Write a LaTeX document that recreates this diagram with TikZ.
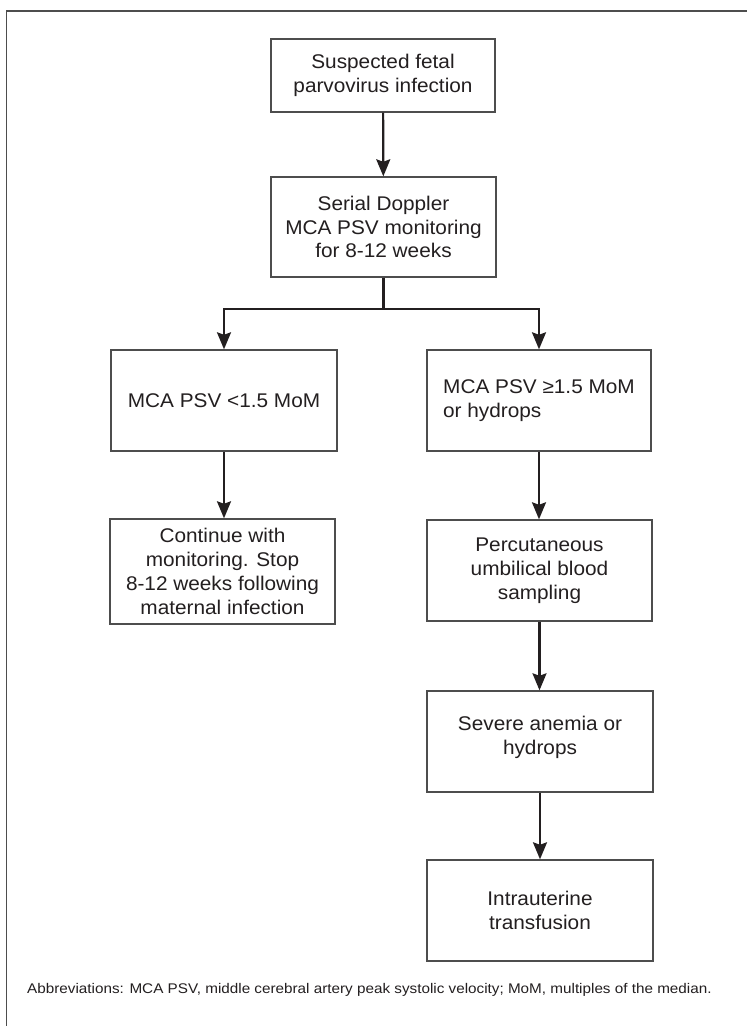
\documentclass[tikz,border=0pt]{standalone}
\usepackage{fontspec}
\setmainfont{Liberation Sans}
\newfontfamily\boxfont[FakeStretch=1.05]{Liberation Sans}
\newfontfamily\notefont[FakeStretch=1.09]{Liberation Sans}
\usetikzlibrary{arrows.meta}
\definecolor{ink}{HTML}{231F20}
\definecolor{frame}{HTML}{4D4D4D}
\begin{document}
\begin{tikzpicture}[x=1pt,y=-1pt,
  flowbox/.style={draw=frame, line width=1.4pt, text=ink, align=center,
    inner sep=0pt, font=\boxfont\fontsize{19.8}{23.8}\selectfont},
  flowarrow/.style={draw=ink, line width=2.2pt,
    -{Stealth[length=17pt,width=14pt,inset=2.5pt]}},
  flowline/.style={draw=ink, line width=2.2pt}]
\useasboundingbox (0,0) rectangle (747,1026);
\fill[white] (0,0) rectangle (747,1026);
\draw[frame, line width=1.3pt] (6.5,1026) -- (6.5,11) -- (747,11);

\node[flowbox, minimum width=224pt, minimum height=73pt] (b1) at (383,75.5)
  {Suspected fetal\\parvovirus infection};
\node[flowbox, minimum width=225pt, minimum height=100pt] (b2) at (383.5,227)
  {Serial Doppler\\MCA PSV monitoring\\for 8-12 weeks};
\node[flowbox, minimum width=226pt, minimum height=101pt] (lt) at (224,400.5)
  {MCA PSV <1.5 MoM};
\node[flowbox, minimum width=224pt, minimum height=101pt] (rt) at (539,400.5)
  {\begin{tabular}{@{}l@{}}MCA PSV ≥1.5 MoM\\or hydrops\end{tabular}};
\node[flowbox, minimum width=225pt, minimum height=105pt] (l2) at (222.5,571.5)
  {Continue with\\monitoring. Stop\\8-12 weeks following\\maternal infection};
\node[flowbox, minimum width=225pt, minimum height=101pt] (r2) at (539.5,570.5)
  {Percutaneous\\umbilical blood\\sampling};
\node[flowbox, minimum width=226pt, minimum height=101pt] (r3) at (540,741.5)
  {Severe anemia or\\hydrops\\[-12pt]\mbox{}};
\node[flowbox, minimum width=226pt, minimum height=101pt] (r4) at (540,910.5)
  {Intrauterine\\transfusion};

\coordinate (split) at (383.5,309);
\draw[flowarrow] (b1) -- (b2);
\draw[flowline] (b2.south) -- (split);
\draw[flowarrow] (split) -| (lt.north);
\draw[flowarrow] (split) -| (rt.north);
\draw[flowarrow] (lt) -- (lt.south |- l2.north);
\draw[flowarrow] (rt) -- (rt.south |- r2.north);
\draw[flowarrow] (r2) -- (r2.south |- r3.north);
\draw[flowarrow] (r3) -- (r3.south |- r4.north);

\node[anchor=base west, inner sep=0pt, text=ink, font=\notefont\fontsize{14}{17}\selectfont] (abbr) at (27,993)
  {Abbreviations: MCA PSV, middle cerebral artery peak systolic velocity; MoM, multiples of the median.};
\end{tikzpicture}
\end{document}
